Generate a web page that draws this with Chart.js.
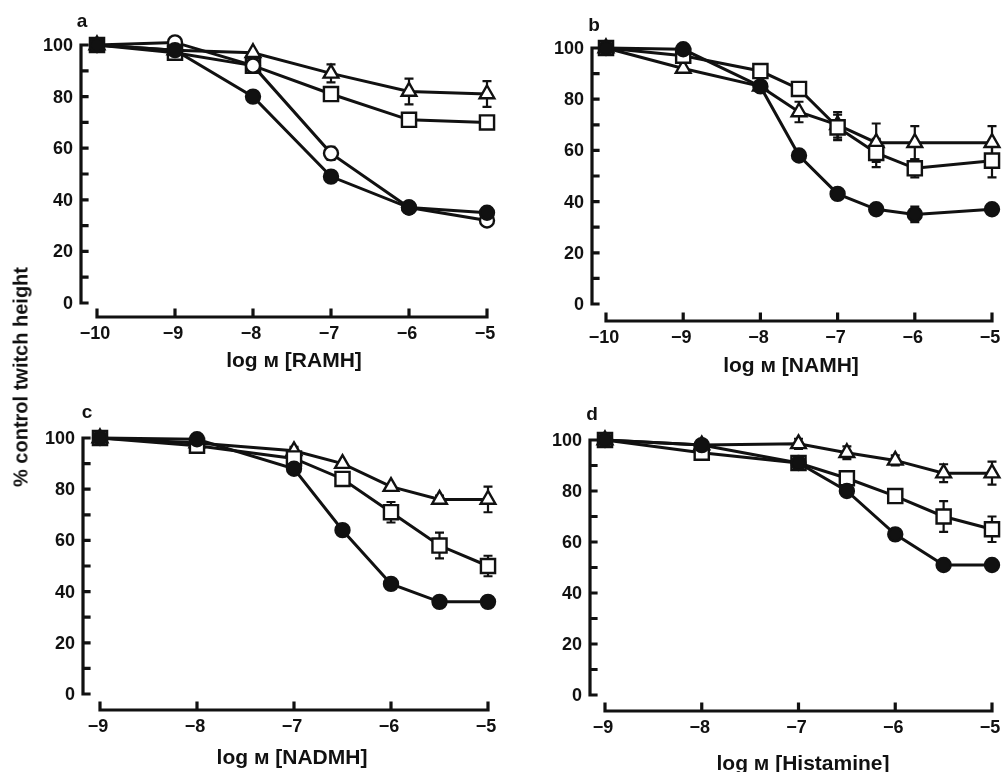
<!DOCTYPE html>
<html>
<head>
<meta charset="utf-8">
<script src="https://cdn.jsdelivr.net/npm/chart.js@4.4.1/dist/chart.umd.min.js"></script>
<style>
  body { margin: 0; background: #fff; }
  #page { position: relative; width: 1007px; height: 772px; overflow: hidden; }
  canvas { position: absolute; }
  .txt { position: absolute; font-family: "Liberation Sans", Arial, sans-serif; font-weight: bold; color: #111; white-space: nowrap; }
  .title { font-size: 21px; transform: translate(-50%, -50%); }
  .letter { font-size: 19px; transform: translate(-50%, -50%); }
  .ylab { font-size: 20px; transform: translate(-50%, -50%) rotate(-90deg); }
</style>
</head>
<body>
<div id="page">
  <canvas id="chartA" width="503" height="386" style="left:0;top:0"></canvas>
  <canvas id="chartB" width="504" height="386" style="left:503px;top:0"></canvas>
  <canvas id="chartC" width="503" height="386" style="left:0;top:386px"></canvas>
  <canvas id="chartD" width="504" height="386" style="left:503px;top:386px"></canvas>

  <div class="txt letter" style="left:82px;top:21px">a</div>
  <div class="txt letter" style="left:594px;top:25px">b</div>
  <div class="txt letter" style="left:87px;top:412px">c</div>
  <div class="txt letter" style="left:592px;top:414px">d</div>

  <div class="txt title" style="left:294px;top:360px">log м [RAMH]</div>
  <div class="txt title" style="left:791px;top:365px">log м [NAMH]</div>
  <div class="txt title" style="left:292px;top:757px">log м [NADMH]</div>
  <div class="txt title" style="left:803px;top:763px">log м [Histamine]</div>

  <div class="txt ylab" style="left:21px;top:377px">% control twitch height</div>
</div>
<script>
// ---- data ----
const yTicks = [0, 20, 40, 60, 80, 100];
const yMinor = [0, 10, 20, 30, 40, 50, 60, 70, 80, 90, 100];

// a : RAMH
const xA = [-10, -9, -8, -7, -6, -5];
const aFilled = [100, 98, 80, 49, 37, 35];
const aOpen = [100, 101, 92, 58, 37, 32];
const aOpenErr = [0, 0, 0, 2.5, 0, 0];
const aSquare = [100, 97, 92, 81, 71, 70];
const aSquareErr = [0, 0, 0, 2, 2, 2];
const aTriangle = [100, 98, 97, 89, 82, 81];
const aTriangleErr = [0, 0, 0, 3.5, 5, 5];
const xTicksA = [-10, -9, -8, -7, -6, -5];

// b : NAMH
const xB = [-10, -9, -8, -7.5, -7, -6.5, -6, -5];
const bFilled = [100, 99.5, 85, 58, 43, 37, 35, 37];
const bFilledErr = [0, 0, 0, 0, 0, 0, 3, 0];
const bSquare = [100, 97, 91, 84, 69, 59, 53, 56];
const bSquareErr = [0, 0, 0, 0, 5, 5.5, 3.5, 6.5];
const bTriangle = [100, 92, 85, 75, 70, 63, 63, 63];
const bTriangleErr = [0, 0, 0, 4, 5, 7.5, 6.5, 6.5];
const xTicksB = [-10, -9, -8, -7, -6, -5];

// c : NADMH
const xC = [-9, -8, -7, -6.5, -6, -5.5, -5];
const cFilled = [100, 99.5, 88, 64, 43, 36, 36];
const cSquare = [100, 97, 92, 84, 71, 58, 50];
const cSquareErr = [0, 0, 0, 0, 4, 5, 4];
const cTriangle = [100, 98, 95, 90, 81, 76, 76];
const cTriangleErr = [0, 0, 1.5, 0, 0, 1.5, 5];
const xTicksC = [-9, -8, -7, -6, -5];

// d : Histamine
const xD = [-9, -8, -7, -6.5, -6, -5.5, -5];
const dFilled = [100, 98, 91, 80, 63, 51, 51];
const dSquare = [100, 95, 91, 85, 78, 70, 65];
const dSquareErr = [0, 0, 0, 0, 0, 6, 5];
const dTriangle = [100, 98, 98.5, 95, 92, 87, 87];
const dTriangleErr = [0, 0, 2, 2.5, 2, 3.5, 4.5];
const xTicksD = [-9, -8, -7, -6, -5];

// ---- drawing ----
const INK = '#111';
const tickFont = 'bold 18px "Liberation Sans", Arial, sans-serif';

function series(xs, ys, kind, err) {
  const base = {
    data: xs.map((x, i) => ({ x: x, y: ys[i] })),
    err: err || null,
    borderColor: INK,
    borderWidth: 3,
    pointBorderColor: INK,
    pointBorderWidth: 2.4,
    tension: 0,
    clip: false
  };
  if (kind === 'filled') return Object.assign(base, { pointStyle: 'circle', pointRadius: 7, pointBackgroundColor: INK });
  if (kind === 'open') return Object.assign(base, { pointStyle: 'circle', pointRadius: 7, pointBackgroundColor: '#fff' });
  if (kind === 'square') return Object.assign(base, { pointStyle: 'rect', pointRadius: 10, pointBackgroundColor: '#fff' });
  return Object.assign(base, { pointStyle: 'triangle', pointRadius: 8.5, pointBackgroundColor: '#fff' });
}

const errorBars = {
  id: 'errorBars',
  beforeDatasetsDraw(chart) {
    const { ctx, scales: { x, y } } = chart;
    ctx.save();
    ctx.strokeStyle = INK;
    ctx.lineWidth = 2.2;
    chart.data.datasets.forEach(ds => {
      if (!ds.err) return;
      ds.data.forEach((p, i) => {
        const e = ds.err[i];
        if (!e) return;
        const px = x.getPixelForValue(p.x);
        const top = y.getPixelForValue(p.y + e);
        const bot = y.getPixelForValue(p.y - e);
        ctx.beginPath();
        ctx.moveTo(px, top); ctx.lineTo(px, bot);
        ctx.moveTo(px - 4.5, top); ctx.lineTo(px + 4.5, top);
        ctx.moveTo(px - 4.5, bot); ctx.lineTo(px + 4.5, bot);
        ctx.stroke();
      });
    });
    ctx.restore();
  }
};

// detached axes: y axis a little left of the data, x axis a little below
function axesPlugin(xTicks, yGap, xGap) {
  return {
    id: 'detachedAxes',
    afterDraw(chart) {
      const { ctx, chartArea, scales: { x, y } } = chart;
      ctx.save();
      ctx.strokeStyle = INK;
      ctx.fillStyle = INK;
      ctx.lineWidth = 3.2;
      ctx.lineCap = 'square';
      ctx.font = tickFont;

      const ax = chartArea.left - yGap;
      ctx.beginPath();
      ctx.moveTo(ax, y.getPixelForValue(yMinor[yMinor.length - 1]));
      ctx.lineTo(ax, y.getPixelForValue(yMinor[0]));
      yMinor.forEach(v => {
        const py = y.getPixelForValue(v);
        ctx.moveTo(ax, py); ctx.lineTo(ax + 6, py);
      });
      ctx.stroke();
      ctx.textAlign = 'right';
      ctx.textBaseline = 'middle';
      yTicks.forEach(v => ctx.fillText(String(v), ax - 8, y.getPixelForValue(v) + 1));

      const ay = chartArea.bottom + xGap;
      ctx.beginPath();
      ctx.moveTo(x.getPixelForValue(xTicks[0]), ay);
      ctx.lineTo(x.getPixelForValue(xTicks[xTicks.length - 1]), ay);
      xTicks.forEach(v => {
        const px = x.getPixelForValue(v);
        ctx.moveTo(px, ay); ctx.lineTo(px, ay - 7);
      });
      ctx.stroke();
      ctx.textAlign = 'center';
      ctx.textBaseline = 'middle';
      xTicks.forEach(v => {
        const label = v < 0 ? '\u2212' + Math.abs(v) : String(v);
        ctx.fillText(label, x.getPixelForValue(v) - 2, ay + 17);
      });
      ctx.restore();
    }
  };
}

function makePanel(id, datasets, xTicks, padding, yGap, xGap) {
  new Chart(document.getElementById(id), {
    type: 'line',
    data: { datasets: datasets },
    options: {
      responsive: false,
      animation: false,
      devicePixelRatio: 1,
      layout: { padding: padding },
      plugins: { legend: { display: false }, tooltip: { enabled: false } },
      scales: {
        x: { type: 'linear', display: false, min: xTicks[0], max: xTicks[xTicks.length - 1] },
        y: { type: 'linear', display: false, min: 0, max: 100 }
      }
    },
    plugins: [errorBars, axesPlugin(xTicks, yGap, xGap)]
  });
}

makePanel('chartA', [
  series(xA, aFilled, 'filled'),
  series(xA, aOpen, 'open', aOpenErr),
  series(xA, aSquare, 'square', aSquareErr),
  series(xA, aTriangle, 'triangle', aTriangleErr)
], xTicksA, { left: 97, right: 16, top: 45, bottom: 83 }, 16, 14);

makePanel('chartB', [
  series(xB, bFilled, 'filled', bFilledErr),
  series(xB, bSquare, 'square', bSquareErr),
  series(xB, bTriangle, 'triangle', bTriangleErr)
], xTicksB, { left: 103, right: 15, top: 48, bottom: 82 }, 14, 17);

makePanel('chartC', [
  series(xC, cFilled, 'filled'),
  series(xC, cSquare, 'square', cSquareErr),
  series(xC, cTriangle, 'triangle', cTriangleErr)
], xTicksC, { left: 100, right: 15, top: 52, bottom: 78 }, 17, 16);

makePanel('chartD', [
  series(xD, dFilled, 'filled'),
  series(xD, dSquare, 'square', dSquareErr),
  series(xD, dTriangle, 'triangle', dTriangleErr)
], xTicksD, { left: 102, right: 15, top: 54, bottom: 77 }, 15, 16);
</script>
</body>
</html>
